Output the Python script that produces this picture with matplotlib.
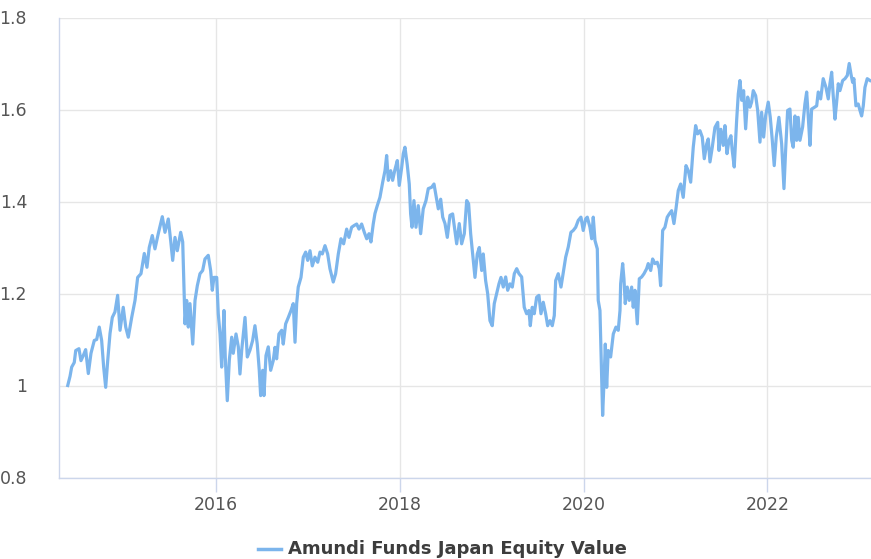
import matplotlib
matplotlib.use("Agg")
import matplotlib.pyplot as plt

series_name = "Amundi Funds Japan Equity Value"

# decimal-year dates and values
dates = [
    2014.387, 2014.412, 2014.430, 2014.458, 2014.474, 2014.509, 2014.531, 2014.556, 2014.582, 2014.611,
    2014.640, 2014.676, 2014.702, 2014.730, 2014.756, 2014.778, 2014.800, 2014.822, 2014.847, 2014.872,
    2014.901, 2014.930, 2014.956, 2014.991, 2015.018, 2015.046, 2015.083, 2015.119, 2015.148, 2015.184,
    2015.220, 2015.249, 2015.274, 2015.307, 2015.336, 2015.372, 2015.416, 2015.445, 2015.481, 2015.507,
    2015.529, 2015.554, 2015.579, 2015.616, 2015.638, 2015.652, 2015.663, 2015.681, 2015.699, 2015.717,
    2015.747, 2015.772, 2015.797, 2015.826, 2015.855, 2015.880, 2015.916, 2015.942, 2015.960, 2015.978,
    2016.008, 2016.025, 2016.044, 2016.062, 2016.087, 2016.101, 2016.123, 2016.145, 2016.171, 2016.188,
    2016.218, 2016.243, 2016.261, 2016.280, 2016.316, 2016.341, 2016.370, 2016.399, 2016.424, 2016.449,
    2016.471, 2016.486, 2016.508, 2016.522, 2016.544, 2016.569, 2016.595, 2016.623, 2016.642, 2016.660,
    2016.685, 2016.715, 2016.732, 2016.758, 2016.787, 2016.816, 2016.841, 2016.860, 2016.878, 2016.895,
    2016.925, 2016.950, 2016.976, 2016.998, 2017.023, 2017.048, 2017.077, 2017.107, 2017.132, 2017.157,
    2017.186, 2017.215, 2017.240, 2017.276, 2017.302, 2017.331, 2017.360, 2017.389, 2017.422, 2017.447,
    2017.476, 2017.505, 2017.531, 2017.556, 2017.585, 2017.614, 2017.640, 2017.665, 2017.686, 2017.711,
    2017.730, 2017.755, 2017.784, 2017.814, 2017.839, 2017.857, 2017.875, 2017.901, 2017.922, 2017.948,
    2017.973, 2017.994, 2018.020, 2018.038, 2018.056, 2018.081, 2018.103, 2018.118, 2018.133, 2018.154,
    2018.176, 2018.201, 2018.227, 2018.255, 2018.285, 2018.310, 2018.347, 2018.372, 2018.394, 2018.419,
    2018.445, 2018.467, 2018.492, 2018.517, 2018.546, 2018.575, 2018.600, 2018.619, 2018.647, 2018.673,
    2018.702, 2018.728, 2018.749, 2018.771, 2018.793, 2018.818, 2018.843, 2018.865, 2018.891, 2018.908,
    2018.934, 2018.956, 2018.981, 2019.006, 2019.028, 2019.054, 2019.079, 2019.101, 2019.126, 2019.152,
    2019.174, 2019.199, 2019.224, 2019.246, 2019.272, 2019.297, 2019.326, 2019.354, 2019.380, 2019.405,
    2019.420, 2019.441, 2019.463, 2019.489, 2019.514, 2019.536, 2019.561, 2019.587, 2019.609, 2019.634,
    2019.659, 2019.681, 2019.696, 2019.724, 2019.754, 2019.779, 2019.805, 2019.833, 2019.862, 2019.887,
    2019.914, 2019.942, 2019.971, 2019.996, 2020.022, 2020.040, 2020.069, 2020.088, 2020.105, 2020.124,
    2020.149, 2020.159, 2020.178, 2020.189, 2020.207, 2020.221, 2020.236, 2020.251, 2020.268, 2020.294,
    2020.323, 2020.352, 2020.377, 2020.396, 2020.403, 2020.425, 2020.439, 2020.453, 2020.475, 2020.497,
    2020.523, 2020.540, 2020.559, 2020.584, 2020.606, 2020.632, 2020.657, 2020.686, 2020.703, 2020.730,
    2020.751, 2020.776, 2020.801, 2020.823, 2020.838, 2020.860, 2020.885, 2020.910, 2020.932, 2020.958,
    2020.983, 2021.005, 2021.030, 2021.056, 2021.084, 2021.114, 2021.139, 2021.165, 2021.193, 2021.219,
    2021.241, 2021.266, 2021.291, 2021.313, 2021.339, 2021.356, 2021.375, 2021.400, 2021.429, 2021.459,
    2021.473, 2021.494, 2021.519, 2021.538, 2021.560, 2021.581, 2021.603, 2021.617, 2021.639, 2021.665,
    2021.683, 2021.701, 2021.720, 2021.741, 2021.763, 2021.785, 2021.810, 2021.828, 2021.846, 2021.872,
    2021.894, 2021.919, 2021.937, 2021.959, 2021.981, 2022.009, 2022.031, 2022.053, 2022.074, 2022.096,
    2022.125, 2022.155, 2022.180, 2022.198, 2022.220, 2022.245, 2022.264, 2022.281, 2022.300, 2022.318,
    2022.335, 2022.354, 2022.383, 2022.408, 2022.427, 2022.444, 2022.463, 2022.481, 2022.506, 2022.536,
    2022.553, 2022.579, 2022.607, 2022.637, 2022.662, 2022.680, 2022.699, 2022.716, 2022.735, 2022.753,
    2022.771, 2022.789, 2022.819, 2022.844, 2022.869, 2022.890, 2022.909, 2022.927, 2022.941, 2022.963,
    2022.988, 2023.007, 2023.025, 2023.043, 2023.061, 2023.086, 2023.116,
]

values = [
    1.000, 1.020, 1.040, 1.050, 1.076, 1.080, 1.054, 1.065, 1.078, 1.026,
    1.070, 1.098, 1.100, 1.127, 1.098, 1.040, 0.996, 1.054, 1.113, 1.148,
    1.160, 1.196, 1.120, 1.170, 1.127, 1.105, 1.148, 1.185, 1.235, 1.243,
    1.287, 1.257, 1.300, 1.326, 1.297, 1.330, 1.367, 1.333, 1.362, 1.315,
    1.272, 1.322, 1.293, 1.333, 1.312, 1.214, 1.134, 1.185, 1.127, 1.178,
    1.090, 1.185, 1.217, 1.243, 1.250, 1.275, 1.283, 1.250, 1.207, 1.235,
    1.235, 1.156, 1.112, 1.040, 1.163, 1.062, 0.967, 1.055, 1.105, 1.070,
    1.112, 1.084, 1.025, 1.077, 1.148, 1.062, 1.077, 1.098, 1.130, 1.090,
    1.033, 0.978, 1.033, 0.978, 1.065, 1.084, 1.033, 1.054, 1.083, 1.058,
    1.112, 1.120, 1.090, 1.134, 1.148, 1.163, 1.178, 1.094, 1.178, 1.214,
    1.235, 1.279, 1.290, 1.272, 1.293, 1.260, 1.279, 1.268, 1.290, 1.286,
    1.304, 1.286, 1.254, 1.225, 1.243, 1.286, 1.319, 1.308, 1.340, 1.322,
    1.344, 1.348, 1.351, 1.340, 1.351, 1.333, 1.319, 1.330, 1.312, 1.351,
    1.374, 1.391, 1.409, 1.442, 1.467, 1.500, 1.446, 1.467, 1.446, 1.470,
    1.489, 1.435, 1.473, 1.504, 1.518, 1.480, 1.438, 1.373, 1.344, 1.402,
    1.344, 1.391, 1.330, 1.384, 1.402, 1.428, 1.431, 1.438, 1.413, 1.384,
    1.405, 1.366, 1.352, 1.322, 1.370, 1.373, 1.337, 1.308, 1.352, 1.308,
    1.330, 1.402, 1.395, 1.330, 1.286, 1.235, 1.286, 1.300, 1.250, 1.286,
    1.228, 1.200, 1.141, 1.130, 1.178, 1.200, 1.221, 1.235, 1.214, 1.236,
    1.207, 1.221, 1.214, 1.243, 1.254, 1.243, 1.236, 1.170, 1.156, 1.163,
    1.130, 1.170, 1.156, 1.192, 1.196, 1.156, 1.181, 1.156, 1.130, 1.141,
    1.130, 1.152, 1.228, 1.243, 1.214, 1.246, 1.279, 1.301, 1.333, 1.337,
    1.344, 1.359, 1.366, 1.337, 1.362, 1.366, 1.344, 1.319, 1.366, 1.315,
    1.297, 1.185, 1.163, 1.076, 0.935, 1.004, 1.090, 0.996, 1.076, 1.062,
    1.112, 1.127, 1.120, 1.163, 1.221, 1.265, 1.232, 1.178, 1.214, 1.185,
    1.214, 1.170, 1.207, 1.134, 1.232, 1.236, 1.243, 1.254, 1.265, 1.250,
    1.275, 1.265, 1.268, 1.254, 1.217, 1.337, 1.344, 1.366, 1.373, 1.380,
    1.352, 1.384, 1.424, 1.438, 1.409, 1.478, 1.467, 1.442, 1.518, 1.565,
    1.547, 1.554, 1.540, 1.493, 1.525, 1.536, 1.486, 1.518, 1.561, 1.572,
    1.511, 1.557, 1.522, 1.565, 1.504, 1.532, 1.543, 1.511, 1.475, 1.576,
    1.634, 1.663, 1.620, 1.641, 1.558, 1.627, 1.605, 1.616, 1.641, 1.630,
    1.598, 1.529, 1.594, 1.540, 1.587, 1.616, 1.583, 1.533, 1.478, 1.540,
    1.583, 1.525, 1.428, 1.511, 1.598, 1.601, 1.533, 1.518, 1.586, 1.533,
    1.583, 1.533, 1.562, 1.612, 1.638, 1.586, 1.522, 1.601, 1.604, 1.608,
    1.638, 1.623, 1.667, 1.648, 1.623, 1.656, 1.681, 1.630, 1.579, 1.616,
    1.656, 1.641, 1.663, 1.667, 1.674, 1.700, 1.677, 1.659, 1.667, 1.608,
    1.612, 1.598, 1.586, 1.608, 1.648, 1.667, 1.663,
]

x_ticks = [2016, 2018, 2020, 2022]
x_tick_labels = ["2016", "2018", "2020", "2022"]
y_ticks = [0.8, 1.0, 1.2, 1.4, 1.6, 1.8]
y_tick_labels = ["0.8", "1", "1.2", "1.4", "1.6", "1.8"]

W, H = 871, 559
fig = plt.figure(figsize=(W / 100, H / 100), dpi=100)
ax = fig.add_axes([59 / W, 1 - 477.5 / H, (W - 59) / W, (477.5 - 17.5) / H])

line_color = "#7cb5ec"
ax.plot(dates, values, color=line_color, lw=2.3, solid_joinstyle="round", zorder=3)

ax.set_xlim(2014.292, 2023.127)
ax.set_ylim(0.8, 1.8)
ax.set_xticks(x_ticks)
ax.set_xticklabels(x_tick_labels)
ax.set_yticks(y_ticks)
ax.set_yticklabels(y_tick_labels)

ax.grid(True, color="#e6e6e6", lw=1.0, zorder=0)
for side in ["top", "right"]:
    ax.spines[side].set_visible(False)
for side in ["left", "bottom"]:
    ax.spines[side].set_color("#ccd6eb")
    ax.spines[side].set_linewidth(1.0)

ax.tick_params(axis="x", length=10, width=1, color="#ccd6eb", pad=3,
               labelsize=12.5, labelcolor="#555555")
ax.tick_params(axis="y", length=0, pad=23, labelsize=12.5, labelcolor="#555555")

# legend
lx0, lx1, ly = 258, 281, 549
fig.add_artist(plt.Line2D([lx0 / W, lx1 / W], [1 - ly / H, 1 - ly / H],
                          color=line_color, lw=2.5, transform=fig.transFigure))
fig.text(288 / W, 1 - ly / H, series_name, fontsize=13, fontweight="bold",
         color="#3d3d3d", va="center", ha="left")

fig.savefig("out.png", dpi=100)
